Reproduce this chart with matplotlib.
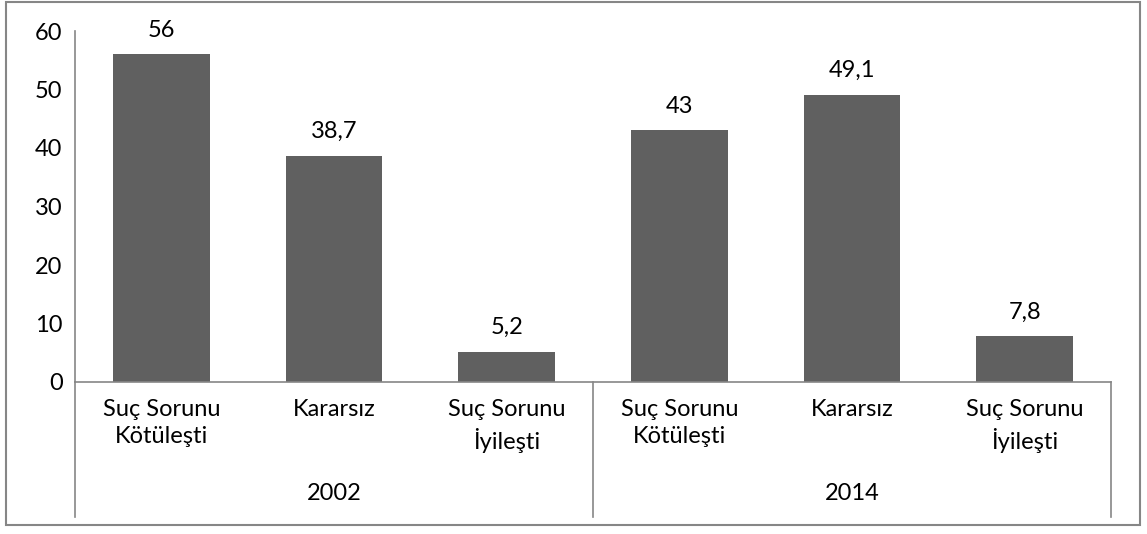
import matplotlib.pyplot as plt
from matplotlib.lines import Line2D
from matplotlib.patches import Rectangle

plt.rcParams['font.family'] = ['Lato', 'DejaVu Sans']

years = ['2002', '2014']
categories = ['Suç Sorunu\nKötüleşti', 'Kararsız', 'Suç Sorunu\nİyileşti']
values_2002 = [56, 38.7, 5.2]
values_2014 = [43, 49.1, 7.8]
value_labels = ['56', '38,7', '5,2', '43', '49,1', '7,8']

W, H = 1147, 534
fig = plt.figure(figsize=(W / 100, H / 100), dpi=100)

x0, x1, y0, y1 = 75, 1111, 382, 31
ax = fig.add_axes([x0 / W, 1 - y0 / H, (x1 - x0) / W, (y0 - y1) / H])

values = values_2002 + values_2014
labels = categories * 2
xs = list(range(len(values)))
bars = ax.bar(xs, values, width=0.56, color='#606060')
for b, t in zip(bars, value_labels):
    ax.annotate(t, (b.get_x() + b.get_width() / 2, b.get_height()),
                xytext=(0, 10), textcoords='offset points',
                ha='center', va='bottom', fontsize=17)

ax.set_xlim(-0.5, len(values) - 0.5)
ax.set_ylim(0, 60)
ax.set_yticks(range(0, 61, 10))
ax.tick_params(axis='y', length=0, pad=9, labelsize=17)
ax.set_xticks(xs)
ax.set_xticklabels(labels, fontsize=17, linespacing=1.4)
ax.tick_params(axis='x', length=0, pad=12)
for s in ['top', 'right']:
    ax.spines[s].set_visible(False)
for s in ['left', 'bottom']:
    ax.spines[s].set_color('#868686')
    ax.spines[s].set_linewidth(1.2)

# group separators and year labels
ybot = 1 - 517 / H
ytop = 1 - y0 / H
for px in [x0, 593, x1]:
    fig.add_artist(Line2D([px / W, px / W], [ybot, ytop], color='#868686', lw=1.2))
for i, yr in enumerate(years):
    cx = (x0 + (x1 - x0) * (i * 3 + 1.5) / 6) / W
    fig.text(cx, 1 - 494 / H, yr, ha='center', va='center', fontsize=17)

fig.add_artist(Rectangle((6 / W, 1 - 525 / H), 1134 / W, 523 / H, fill=False,
                         edgecolor='#868686', lw=1.5, transform=fig.transFigure))

fig.savefig('out.png', dpi=100)
